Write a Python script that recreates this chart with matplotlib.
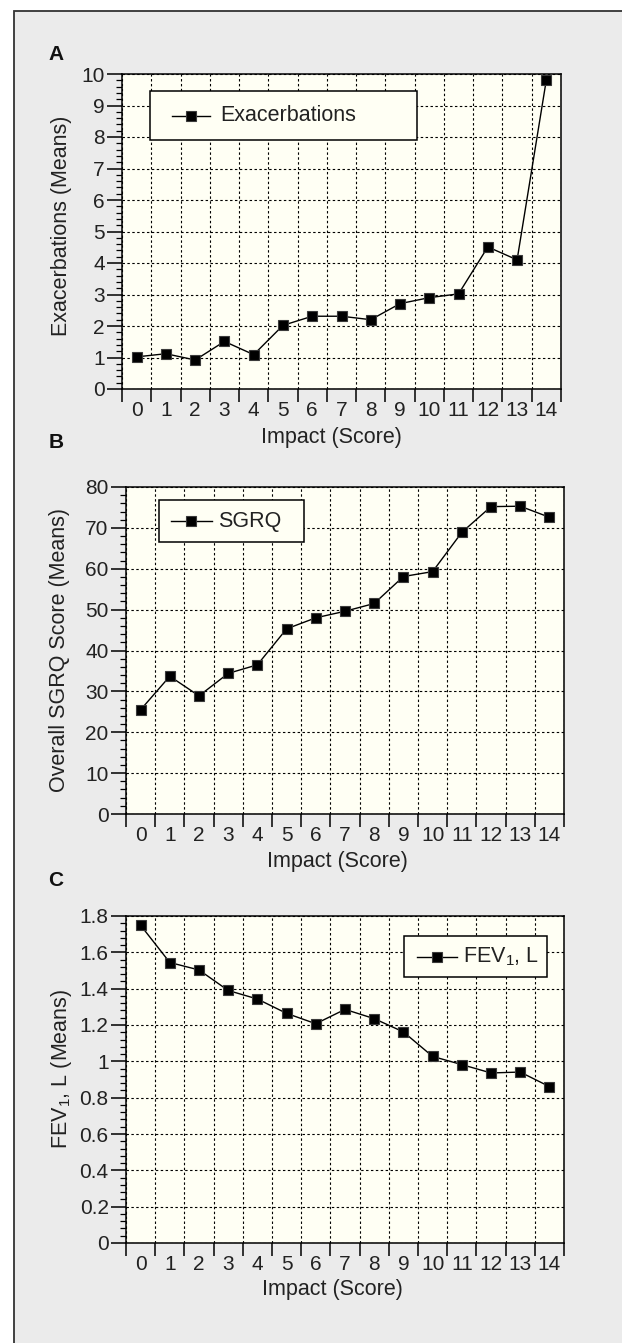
import numpy as np
import matplotlib
matplotlib.use('Agg')
import matplotlib.pyplot as plt
from matplotlib.patches import Rectangle
from matplotlib.lines import Line2D
from matplotlib.ticker import MultipleLocator, FixedLocator, NullFormatter, FixedFormatter, FuncFormatter

plt.rcParams['font.family'] = ['Liberation Sans', 'DejaVu Sans']
plt.rcParams['mathtext.fontset'] = 'custom'
plt.rcParams['mathtext.rm'] = 'Liberation Sans'
plt.rcParams['mathtext.it'] = 'Liberation Sans:italic'
plt.rcParams['mathtext.bf'] = 'Liberation Sans:bold'

# ---------------- data ----------------
scores = list(range(15))
score_labels = [str(s) for s in scores]
exacerbations = [1.02, 1.12, 0.92, 1.51, 1.09, 2.02, 2.31, 2.31, 2.20, 2.71, 2.90, 3.02, 4.51, 4.10, 9.82]
sgrq = [25.5, 33.7, 28.9, 34.4, 36.5, 45.3, 48.0, 49.6, 51.5, 58.1, 59.3, 68.9, 75.2, 75.3, 72.6]
fev1 = [1.749, 1.544, 1.503, 1.390, 1.343, 1.264, 1.207, 1.286, 1.235, 1.162, 1.027, 0.982, 0.936, 0.941, 0.861]

panel_letters = ['A', 'B', 'C']
y_labels = ['Exacerbations (Means)', 'Overall SGRQ Score (Means)', 'FEV$_1$, L (Means)']
legend_labels = ['Exacerbations', 'SGRQ', 'FEV$_1$, L']
x_label = 'Impact (Score)'

W, H = 622, 1343
TXT = '#222222'
FACE = '#fffff4'

fig = plt.figure(figsize=(W / 100, H / 100), dpi=100)
fig.patch.set_facecolor('white')
fig.patches.append(Rectangle((14 / W, -0.1), 1.0, 1.1 - 11 / H, transform=fig.transFigure,
                             facecolor='#ebebeb', edgecolor='#333333', lw=1.3, zorder=-10))


def fx(px):
    return px / W


def fy(py):
    return 1 - py / H


panels = [
    dict(box=(122, 74, 561, 389), data=exacerbations, ymax=10, step=1,
         leg=(150, 91, 417, 140), leg_line=(172, 210), leg_text=220,
         letter=(56, 54), xlab=(331, 437), ylab=(62, 226)),
    dict(box=(126, 487, 564, 814), data=sgrq, ymax=80, step=10,
         leg=(159, 500, 304, 542), leg_line=(171, 212), leg_text=218,
         letter=(56, 443), xlab=(337, 862), ylab=(60, 650)),
    dict(box=(126, 916, 564, 1243), data=fev1, ymax=1.8, step=0.2,
         leg=(404, 936, 547, 977), leg_line=(417, 457), leg_text=463,
         letter=(56, 880), xlab=(332, 1290), ylab=(61, 1069)),
]

fmt = FuncFormatter(lambda v, p: f'{round(v, 2):g}')

for i, p in enumerate(panels):
    l, t, r, b = p['box']
    ax = fig.add_axes([fx(l), fy(b), (r - l) / W, (b - t) / H])
    ax.set_facecolor(FACE)
    ax.plot(scores, p['data'], color='black', lw=1.0, marker='s', ms=7.4,
            mfc='black', mec='#3a3a3a', mew=0.8, zorder=5, clip_on=False)
    ax.set_xlim(-0.5, 14.5)
    ax.set_ylim(0, p['ymax'])

    ax.xaxis.set_major_locator(FixedLocator(np.arange(-0.5, 15, 1)))
    ax.xaxis.set_major_formatter(NullFormatter())
    ax.xaxis.set_minor_locator(FixedLocator(scores))
    ax.xaxis.set_minor_formatter(FixedFormatter(score_labels))
    ax.tick_params(axis='x', which='major', direction='out', length=9, width=1.1, color='black')
    ax.tick_params(axis='x', which='minor', length=0, pad=8.5, labelsize=15, labelcolor=TXT)

    ax.yaxis.set_major_locator(MultipleLocator(p['step']))
    ax.yaxis.set_minor_locator(MultipleLocator(p['step'] / 5))
    ax.yaxis.set_major_formatter(fmt)
    ax.tick_params(axis='y', which='major', direction='out', length=11, width=1.1,
                   labelsize=15, labelcolor=TXT, pad=1.5)
    ax.tick_params(axis='y', which='minor', direction='out', length=4.5, width=0.9)

    ax.grid(True, which='major', color='black', lw=0.8, linestyle=(0, (2.2, 2.2)))
    ax.set_axisbelow(True)
    for s in ax.spines.values():
        s.set_linewidth(1.1)
        s.set_color('black')

    # legend box
    ll, lt, lr, lb = p['leg']
    ax.add_patch(Rectangle((fx(ll), fy(lb)), (lr - ll) / W, (lb - lt) / H, transform=fig.transFigure,
                           facecolor=FACE, edgecolor='black', lw=1.1, zorder=6))
    yc = fy((lt + lb) / 2)
    x0, x1 = p['leg_line']
    ax.add_line(Line2D([fx(x0), fx(x1)], [yc, yc], transform=fig.transFigure, color='black', lw=1.0, zorder=7))
    ax.add_line(Line2D([fx((x0 + x1) / 2)], [yc], transform=fig.transFigure, marker='s', ms=7.4,
                       mfc='black', mec='#3a3a3a', mew=0.8, lw=0, zorder=7))
    ax.text(fx(p['leg_text']), yc, legend_labels[i], transform=fig.transFigure, ha='left', va='center',
            fontsize=15.5, color=TXT, zorder=8)

    fig.text(fx(p['letter'][0]), fy(p['letter'][1]), panel_letters[i], ha='center', va='center',
             fontsize=15, fontweight='bold', color='#111111')
    fig.text(fx(p['xlab'][0]), fy(p['xlab'][1]), x_label, ha='center', va='center', fontsize=15.5, color=TXT)
    fig.text(fx(p['ylab'][0]), fy(p['ylab'][1]), y_labels[i], ha='center', va='center', rotation=90,
             fontsize=15.5, color=TXT)

fig.savefig('out.png', dpi=100, facecolor=fig.get_facecolor())
